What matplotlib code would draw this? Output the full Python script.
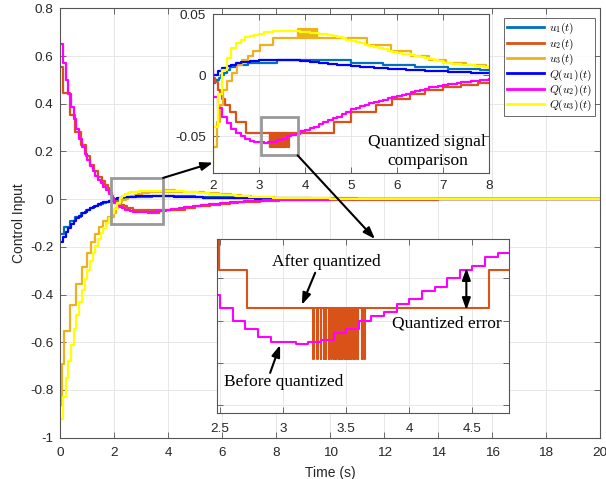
import numpy as np
import matplotlib.pyplot as plt
from matplotlib.patches import Rectangle
from matplotlib.ticker import FuncFormatter

plt.rcParams['font.family'] = ['Liberation Sans', 'DejaVu Sans']
plt.rcParams['mathtext.fontset'] = 'cm'
plt.rcParams['axes.unicode_minus'] = False

# sampled (0.1 s) control signals Q(u_i), then a coarse tail 9..20 s
t_fine = np.round(np.arange(0, 8.01, 0.1), 1)
t_tail = np.arange(9, 21)
t_q = np.concatenate([t_fine, t_tail])

qu1 = [-0.180, -0.158, -0.138, -0.120, -0.105, -0.092, -0.080, -0.069, -0.060, -0.052,
       -0.045, -0.038, -0.032, -0.027, -0.022, -0.018, -0.014, -0.010, -0.006, -0.003,
       0.000, 0.003, 0.0055, 0.0073, 0.0087, 0.0097, 0.0105, 0.0110, 0.0115, 0.0118,
       0.0120, 0.0122, 0.0124, 0.0125, 0.0125, 0.0125, 0.0124, 0.0122, 0.0120, 0.0117,
       0.0114, 0.0111, 0.0107, 0.0103, 0.0099, 0.0095, 0.0091, 0.0087, 0.0083, 0.0079,
       0.0076, 0.0073, 0.0070, 0.0067, 0.0064, 0.0061, 0.0058, 0.0056, 0.0053, 0.0051,
       0.0049, 0.0047, 0.0045, 0.0043, 0.0041, 0.0039, 0.0037, 0.0035, 0.0033, 0.0031,
       0.0030, 0.0028, 0.0027, 0.0025, 0.0024, 0.0022, 0.0021, 0.0020, 0.0018, 0.0017,
       0.0016,
       0.0008, 0.0004, 0.0002, 0.0001, 0, 0, 0, 0, 0, 0, 0, 0]

qu2 = [0.650, 0.570, 0.500, 0.440, 0.385, 0.335, 0.292, 0.254, 0.220, 0.190,
       0.163, 0.139, 0.118, 0.099, 0.082, 0.067, 0.053, 0.039, 0.022, 0.004,
       -0.018, -0.027, -0.034, -0.039, -0.044, -0.047, -0.050, -0.052, -0.054, -0.055,
       -0.055, -0.0555, -0.055, -0.0545, -0.053, -0.052, -0.050, -0.049, -0.048, -0.046,
       -0.045, -0.043, -0.042, -0.040, -0.038, -0.037, -0.035, -0.034, -0.032, -0.030,
       -0.028, -0.027, -0.025, -0.024, -0.023, -0.022, -0.021, -0.020, -0.019, -0.018,
       -0.017, -0.016, -0.015, -0.014, -0.013, -0.012, -0.011, -0.010, -0.0095, -0.009,
       -0.0082, -0.0076, -0.0070, -0.0064, -0.0058, -0.0053, -0.0048, -0.0044, -0.0040, -0.0036,
       -0.0033,
       -0.0015, -0.0007, -0.0003, -0.0001, 0, 0, 0, 0, 0, 0, 0, 0]

qu3 = [-0.920, -0.830, -0.750, -0.680, -0.610, -0.545, -0.485, -0.430, -0.380, -0.335,
       -0.295, -0.258, -0.225, -0.195, -0.168, -0.143, -0.120, -0.098, -0.078, -0.060,
       -0.042, -0.015, 0.004, 0.014, 0.022, 0.026, 0.029, 0.031, 0.032, 0.033,
       0.034, 0.035, 0.0355, 0.036, 0.036, 0.0362, 0.0362, 0.036, 0.0357, 0.0353,
       0.035, 0.0348, 0.0345, 0.034, 0.0335, 0.033, 0.032, 0.031, 0.030, 0.029,
       0.028, 0.027, 0.026, 0.025, 0.024, 0.023, 0.022, 0.021, 0.020, 0.019,
       0.0185, 0.0177, 0.0169, 0.0161, 0.0153, 0.0145, 0.0137, 0.0129, 0.0121, 0.0112,
       0.0103, 0.0099, 0.0095, 0.0091, 0.0087, 0.0083, 0.0079, 0.0075, 0.0071, 0.0066,
       0.0062,
       0.0035, 0.002, 0.001, 0.0005, 0.0002, 0, 0, 0, 0, 0, 0, 0]

# quantized inputs u_i: switch times and held levels
u1_t = [0.0, 0.15, 0.35, 0.55, 0.75, 0.95, 1.1, 1.25, 1.4, 1.5, 1.6, 1.7, 1.75, 1.8, 1.85,
        2.05, 2.12, 2.18, 2.24, 2.3, 2.38, 2.5, 2.75, 3.4, 5.0, 5.7, 6.4, 7.1, 7.8, 8.5,
        9.3, 10.2, 11.5, 13.0, 15.0]
u1_v = [-0.145, -0.116, -0.093, -0.074, -0.059, -0.0475, -0.038, -0.030, -0.024, -0.0195,
        -0.0156, -0.0125, -0.010, -0.008, -0.0064, -0.004, -0.002, 0.0, 0.002, 0.004,
        0.0064, 0.008, 0.010, 0.0125, 0.010, 0.008, 0.0064, 0.0051, 0.0041, 0.0033,
        0.0026, 0.002, 0.0015, 0.001, 0.0]

u2_t = [0.0, 0.1, 0.35, 0.55, 0.75, 0.95, 1.1, 1.25, 1.4, 1.55, 1.65, 1.75, 1.8, 1.85, 1.9,
        1.95, 2.0, 2.05, 2.1, 2.15, 2.19, 2.25, 2.37, 2.49, 2.71, 3.64, 4.63, 5.0, 5.55, 5.9,
        6.28, 6.6, 7.0, 7.4, 7.75, 8.1, 8.6, 9.2, 10.0, 11.0, 12.5, 14.0, 16.0]
u2_v = [0.553, 0.443, 0.354, 0.283, 0.227, 0.181, 0.145, 0.116, 0.093, 0.074, 0.059, 0.0475,
        0.038, 0.024, 0.0125, 0.005, -0.002, -0.006, -0.0125, -0.0156, -0.0195, -0.024,
        -0.030, -0.038, -0.047, -0.047, -0.038, -0.030, -0.024, -0.0195, -0.0156, -0.0125,
        -0.010, -0.008, -0.0064, -0.0051, -0.0041, -0.0033, -0.0026, -0.002, -0.0015,
        -0.001, 0.0]
# chattering of u2 down to the next level
u2_low = -0.059
u2_pulses = [(3.238, 3.248), (3.272, 3.277), (3.298, 3.302), (3.320, 3.324), (3.339, 3.343),
             (3.362, 3.366), (3.383, 3.387), (3.402, 3.405), (3.419, 3.422), (3.436, 3.439),
             (3.453, 3.456), (3.470, 3.473), (3.487, 3.490), (3.504, 3.507), (3.521, 3.524),
             (3.538, 3.541), (3.555, 3.558), (3.572, 3.575), (3.590, 3.594), (3.624, 3.628),
             (3.640, 3.645)]

u3_t = [0.0, 0.05, 0.15, 0.35, 0.6, 0.8, 1.0, 1.15, 1.3, 1.45, 1.6, 1.75, 2.0, 2.08, 2.15,
        2.22, 2.3, 2.42, 2.52, 2.62, 2.75, 2.88, 3.02, 3.3, 4.27, 5.34, 5.88, 6.31, 6.7,
        7.06, 7.5, 7.93, 8.5, 9.2, 10.0, 11.0, 12.5, 14.0]
u3_v = [-0.865, -0.692, -0.553, -0.443, -0.354, -0.283, -0.227, -0.181, -0.145, -0.116,
        -0.093, -0.074, -0.059, -0.038, -0.024, -0.0125, -0.005, 0.002, 0.008, 0.0125,
        0.0156, 0.0195, 0.0243, 0.0304, 0.0304, 0.0243, 0.0195, 0.0156, 0.0125, 0.010,
        0.008, 0.0064, 0.0051, 0.0041, 0.0033, 0.0026, 0.0015, 0.0]
u3_high = 0.038
u3_pulses = [(3.85, 3.86), (3.87, 3.88), (3.89, 3.90), (3.91, 3.92), (3.93, 3.94),
             (3.95, 3.96), (3.97, 3.98), (3.99, 4.00), (4.01, 4.02), (4.03, 4.04),
             (4.05, 4.06), (4.07, 4.08), (4.09, 4.10), (4.11, 4.12), (4.13, 4.14),
             (4.15, 4.16), (4.17, 4.18), (4.19, 4.20), (4.21, 4.22), (4.23, 4.24),
             (4.25, 4.265)]

labels = [r'$u_1(t)$', r'$u_2(t)$', r'$u_3(t)$', r'$Q(u_1)(t)$', r'$Q(u_2)(t)$', r'$Q(u_3)(t)$']
colors = ['#0072BD', '#D95319', '#EDB120', '#0000FF', '#FF00FF', '#FFFF00']
T_END = 20.0


def add_pulses(ts, vs, pulses, level):
    ts = np.asarray(ts, float)
    vs = np.asarray(vs, float)
    ext_t, ext_v = [], []
    for a, b in pulses:
        ext_t += [a, b]
        ext_v += [level, vs[np.searchsorted(ts, b, side='right') - 1]]
    all_t = np.concatenate([ts, ext_t])
    all_v = np.concatenate([vs, ext_v])
    order = np.argsort(all_t, kind='stable')
    return all_t[order], all_v[order]


def held(ts, vs):
    return np.append(ts, T_END), np.append(vs, vs[-1])


u2_tt, u2_vv = add_pulses(u2_t, u2_v, u2_pulses, u2_low)
u3_tt, u3_vv = add_pulses(u3_t, u3_v, u3_pulses, u3_high)

series = [held(np.asarray(u1_t, float), np.asarray(u1_v, float)),
          held(u2_tt, u2_vv),
          held(u3_tt, u3_vv),
          held(t_q, np.asarray(qu1)),
          held(t_q, np.asarray(qu2)),
          held(t_q, np.asarray(qu3))]

TXT = '#262626'


def style(ax, fs=9.7):
    ax.grid(True, color='#e3e3e3', lw=0.6)
    ax.set_axisbelow(True)
    ax.tick_params(direction='in', length=4, width=0.6, colors='#555555',
                   labelcolor=TXT, labelsize=fs, top=True, right=True)
    for s in ax.spines.values():
        s.set_color('#555555')
        s.set_linewidth(0.8)


def fmt(v, p):
    s = f'{round(v, 4):g}'
    return '0' if s == '-0' else s


fig = plt.figure(figsize=(6.06, 4.79), dpi=100)

# main axes
ax = fig.add_axes([60.3 / 606, 1 - 437.7 / 479, 539.7 / 606, 429.4 / 479])
handles = []
for (x, y), c, lab in zip(series, colors, labels):
    h, = ax.step(x, y, where='post', color=c, lw=1.6, label=lab)
    handles.append(h)
ax.set_xlim(0, 20)
ax.set_ylim(-1, 0.8)
ax.set_xticks(np.arange(0, 21, 2))
ax.set_yticks(np.round(np.arange(-1, 0.81, 0.2), 1))
ax.yaxis.set_major_formatter(FuncFormatter(fmt))
style(ax)
ax.tick_params(axis='x', pad=7)
ax.tick_params(axis='y', pad=5)
ax.set_xlabel('Time (s)', fontsize=10, color=TXT, labelpad=5)
ax.set_ylabel('Control Input', fontsize=10, color=TXT, labelpad=3)
ax.add_patch(Rectangle((1.88, -0.105), 1.93, 0.194, fill=False, ec='#999999', lw=2, zorder=6))

leg = ax.legend(handles=handles, loc='upper right', bbox_to_anchor=(595 / 606, 1 - 18.3 / 479),
                bbox_transform=fig.transFigure, borderaxespad=0, fontsize=8.2, frameon=True,
                fancybox=False, handlelength=3.2, labelspacing=0.0, borderpad=0.25,
                handletextpad=0.5)
leg.get_frame().set_edgecolor('#262626')
leg.get_frame().set_linewidth(0.6)
for ln in leg.get_lines():
    ln.set_linewidth(2)

# inset 1: 2..8 s
ax1 = fig.add_axes([213 / 606, 1 - 173 / 479, 276 / 606, 159 / 479])
for (x, y), c in zip(series, colors):
    ax1.step(x, y, where='post', color=c, lw=1.6)
ax1.set_xlim(2, 8)
ax1.set_ylim(-0.08, 0.05)
ax1.set_xticks(np.arange(2, 9, 1))
ax1.set_yticks([-0.05, 0, 0.05])
ax1.yaxis.set_major_formatter(FuncFormatter(fmt))
style(ax1)
ax1.tick_params(axis='x', pad=5)
ax1.tick_params(axis='y', pad=5)
ax1.add_patch(Rectangle((3.04, -0.0656), 0.8, 0.0312, fill=False, ec='#999999', lw=2, zorder=6))
ax1.text(6.66, -0.0626, 'Quantized signal\ncomparison', ha='center', va='center',
         family='Liberation Serif', fontsize=12.5, color='k', linespacing=1.25)

# inset 2: u2 before / after quantization
ax2 = fig.add_axes([217 / 606, 1 - 413 / 479, 292 / 606, 174 / 479])
for i in (1, 4):
    x, y = series[i]
    ax2.step(x, y, where='post', color=colors[i], lw=1.5)
ax2.set_xlim(2.476, 4.79)
ax2.set_ylim(-0.0719, -0.0307)
ax2.set_xticks([2.5, 3, 3.5, 4, 4.5])
ax2.set_yticks([-0.07, -0.06, -0.05, -0.04])
ax2.xaxis.set_major_formatter(FuncFormatter(fmt))
ax2.set_yticklabels([])
style(ax2)
ax2.tick_params(axis='x', pad=7)

arrow = dict(arrowstyle='-|>,head_length=0.7,head_width=0.25', color='k', lw=1.5,
             shrinkA=0, shrinkB=0)
serif = dict(family='Liberation Serif', fontsize=12.5, color='k', ha='center', va='center')
ax2.text(3.341, -0.0361, 'After quantized', **serif)
ax2.annotate('', xy=(3.148, -0.0463), xytext=(3.254, -0.0387), arrowprops=arrow)
ax2.text(3.008, -0.0645, 'Before quantized', **serif)
ax2.annotate('', xy=(2.976, -0.0558), xytext=(2.897, -0.0624), arrowprops=arrow)
ax2.text(4.30, -0.0506, 'Quantized error', **serif)
ax2.annotate('', xy=(4.452, -0.0376), xytext=(4.452, -0.0475),
             arrowprops=dict(arrow, arrowstyle='<|-|>,head_length=0.7,head_width=0.25'))

# connectors between the zoom boxes and the insets
ax.annotate('', xy=(0.0, 0.065), xycoords=ax1.transAxes, xytext=(3.81, 0.089),
            textcoords='data', arrowprops=arrow, annotation_clip=False, zorder=7)
ax2.annotate('', xy=(0.541, 1.0), xycoords='axes fraction', xytext=(3.84, -0.0656),
             textcoords=ax1.transData, arrowprops=arrow, annotation_clip=False)

fig.savefig('out.png', dpi=100)
